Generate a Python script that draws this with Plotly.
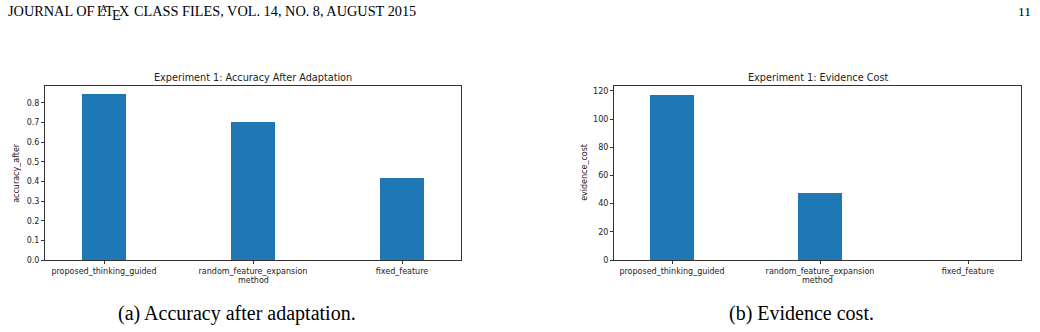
import plotly.graph_objects as go

methods = ["proposed_thinking_guided", "random_feature_expansion", "fixed_feature"]
accuracy_after = [0.845, 0.703, 0.418]
evidence_cost = [117.5, 48.0, 0.0]

W, H = 1040, 332
def px(x):
    return x / W
def py(y):
    return 1 - y / H

BLUE = "#1f77b4"
AX = "#333333"
tickfont = dict(family="DejaVu Sans", size=8, color="#222222")

fig = go.Figure()
fig.add_trace(go.Bar(x=[0, 1, 2], y=accuracy_after, width=0.3, marker=dict(color=BLUE, line=dict(width=0)),
                     xaxis="x", yaxis="y", showlegend=False))
fig.add_trace(go.Bar(x=[0, 1, 2], y=evidence_cost, width=0.3, marker=dict(color=BLUE, line=dict(width=0)),
                     xaxis="x2", yaxis="y2", showlegend=False))

ydom = [py(264), py(87)]
common_x = dict(tickmode="array", tickvals=[0, 1, 2], ticktext=methods, showline=True, mirror=True,
                linecolor=AX, linewidth=1, ticks="outside", ticklen=3, tickcolor=AX, showgrid=False,
                zeroline=False, tickfont=tickfont, fixedrange=True)
common_y = dict(showline=True, mirror=True, linecolor=AX, linewidth=1, ticks="outside", ticklen=3,
                tickcolor=AX, showgrid=False, zeroline=False, tickfont=tickfont, fixedrange=True)

fig.update_layout(
    width=W, height=H, margin=dict(l=0, r=0, t=0, b=0),
    paper_bgcolor="white", plot_bgcolor="white",
    xaxis=dict(domain=[px(45), px(461)], range=[-0.396, 2.396], anchor="y", **common_x),
    yaxis=dict(domain=ydom, range=[0, 0.8875], dtick=0.1, tickformat=".1f", anchor="x", **common_y),
    xaxis2=dict(domain=[px(614), px(1021)], range=[-0.392, 2.358], anchor="y2", **common_x),
    yaxis2=dict(domain=ydom, range=[0, 123.7], dtick=20, anchor="x2", **common_y),
    bargap=0,
)

def ann(text, x, y, size, family="DejaVu Sans", xanchor="center", angle=0, color="#222222"):
    fig.add_annotation(text=text, x=px(x), y=py(y), xref="paper", yref="paper", showarrow=False,
                       xanchor=xanchor, yanchor="middle", textangle=angle,
                       font=dict(family=family, size=size, color=color))

ann("Experiment 1: Accuracy After Adaptation", 253, 79, 9.7)
ann("Experiment 1: Evidence Cost", 817.5, 79, 9.7)
ann("method", 253, 285, 8)
ann("method", 817.5, 285, 8)
ann("accuracy_after", 17, 175.5, 8, angle=-90)
ann("evidence_cost", 585, 175.5, 8, angle=-90)

serif = "Liberation Serif"
HS = 14.3
# running header with LaTeX logo (letters placed with TeX-like kerning)
ann("JOURNAL OF", 5.5, 11.5, HS, family=serif, xanchor="left", color="black")
ann("L", 101, 11.5, HS, family=serif, color="black")
ann("A", 104.2, 9, 10, family=serif, color="black")
ann("T", 109.7, 11.5, HS, family=serif, color="black")
ann("E", 116.2, 14.8, HS, family=serif, color="black")
ann("X", 124.1, 11.5, HS, family=serif, color="black")
ann("CLASS FILES, VOL. 14, NO. 8, AUGUST 2015", 131.5, 11.5, HS, family=serif, xanchor="left", color="black")
ann("11", 1033, 11.5, 13.5, family=serif, xanchor="right", color="black")
ann("(a) Accuracy after adaptation.", 237, 318, 20, family=serif, color="black")
ann("(b) Evidence cost.", 801.5, 318, 20, family=serif, color="black")

fig.write_html("out.html")
